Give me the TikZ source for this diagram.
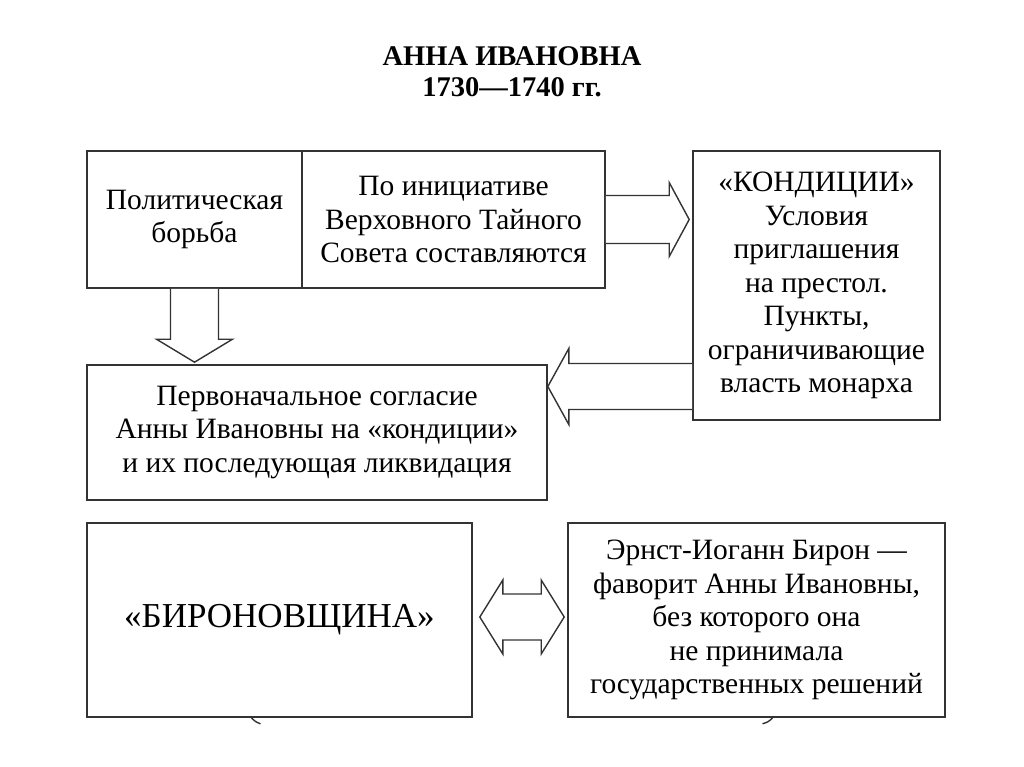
\documentclass[tikz,border=0pt]{standalone}
\usepackage{fontspec}
\setmainfont{Liberation Serif}
\usetikzlibrary{calc}
\begin{document}
\begin{tikzpicture}[x=1pt,y=-1pt,
  box/.style={draw=black!80,line width=1.6pt,align=center,inner sep=0pt,
    font=\fontsize{29.5}{33.5}\selectfont},
  fat/.style={draw=black!80,line width=1.4pt,line join=miter,fill=white}]
\useasboundingbox (0,0) rectangle (1024,767);
\node[font=\bfseries\fontsize{28.5}{31}\selectfont,align=center] (title) at (512,72) {АННА ИВАНОВНА\\1730—1740 гг.};
\node[box,minimum width=215,minimum height=137] (b1) at (194.5,219.5) {Политическая\\борьба};
\node[box,minimum width=303,minimum height=137] (b2) at (453.5,219.5) {По инициативе\\Верховного Тайного\\Совета составляются};
\node[box,minimum width=247,minimum height=269] (k) at (816.5,285.5) {«КОНДИЦИИ»\\Условия\\приглашения\\на престол.\\Пункты,\\ограничивающие\\власть монарха};
\node[box,minimum width=460,minimum height=135] (b3) at (317,432.5) {Первоначальное согласие\\Анны Ивановны на «кондиции»\\и их последующая ликвидация};
\node[box,minimum width=385,minimum height=194,font=\fontsize{35}{40}\selectfont] (b4) at (279.5,620) {«БИРОНОВЩИНА»};
\node[box,minimum width=377,minimum height=194] (b5) at (756.5,620) {Эрнст-Иоганн Бирон —\\фаворит Анны Ивановны,\\без которого она\\не принимала\\государственных решений};
% right arrow b2 -> k
\draw[fat] ($(b2.east)+(0,-24)$) -- ($(b2.east -| k.west)+(-23,-24)$) -- ($(b2.east -| k.west)+(-23,-37)$)
  -- ($(b2.east -| k.west)+(-3,0)$) -- ($(b2.east -| k.west)+(-23,37)$) -- ($(b2.east -| k.west)+(-23,24)$) -- ($(b2.east)+(0,24)$);
% down arrow b1 -> b3
\draw[fat] ($(b1.south)+(-24,0)$) -- ($(b1.south |- b3.north)+(-24,-25)$) -- ($(b1.south |- b3.north)+(-38,-25)$)
  -- ($(b1.south |- b3.north)+(0,-2)$) -- ($(b1.south |- b3.north)+(38,-25)$) -- ($(b1.south |- b3.north)+(24,-25)$) -- ($(b1.south)+(24,0)$);
% left arrow k -> b3
\coordinate (la) at ($(k.west)+(0,101)$);
\draw[fat] ($(la)+(0,-23)$) -- ($(la -| b3.east)+(21,-23)$) -- ($(la -| b3.east)+(21,-38)$)
  -- ($(la -| b3.east)+(0,0)$) -- ($(la -| b3.east)+(21,38)$) -- ($(la -| b3.east)+(21,23)$) -- ($(la)+(0,23)$);
% double arrow b4 <-> b5
\draw[fat] ($(b4.east)+(7,-3)$) -- ($(b4.east)+(30,-40)$) -- ($(b4.east)+(30,-26)$) -- ($(b5.west)+(-26,-26)$)
  -- ($(b5.west)+(-26,-40)$) -- ($(b5.west)+(-3,-3)$) -- ($(b5.west)+(-26,34)$) -- ($(b5.west)+(-26,20)$)
  -- ($(b4.east)+(30,20)$) -- ($(b4.east)+(30,34)$) -- cycle;
% small cut-off marks under the boxes
\draw[black!80,line width=1.4pt] ($(b4.south)+(-28,0)$) .. controls ($(b4.south)+(-24,4)$) .. ($(b4.south)+(-19,6)$);
\draw[black!80,line width=1.4pt] ($(b5.south)+(16,0)$) .. controls ($(b5.south)+(12,4)$) .. ($(b5.south)+(6,6)$);
\end{tikzpicture}
\end{document}
